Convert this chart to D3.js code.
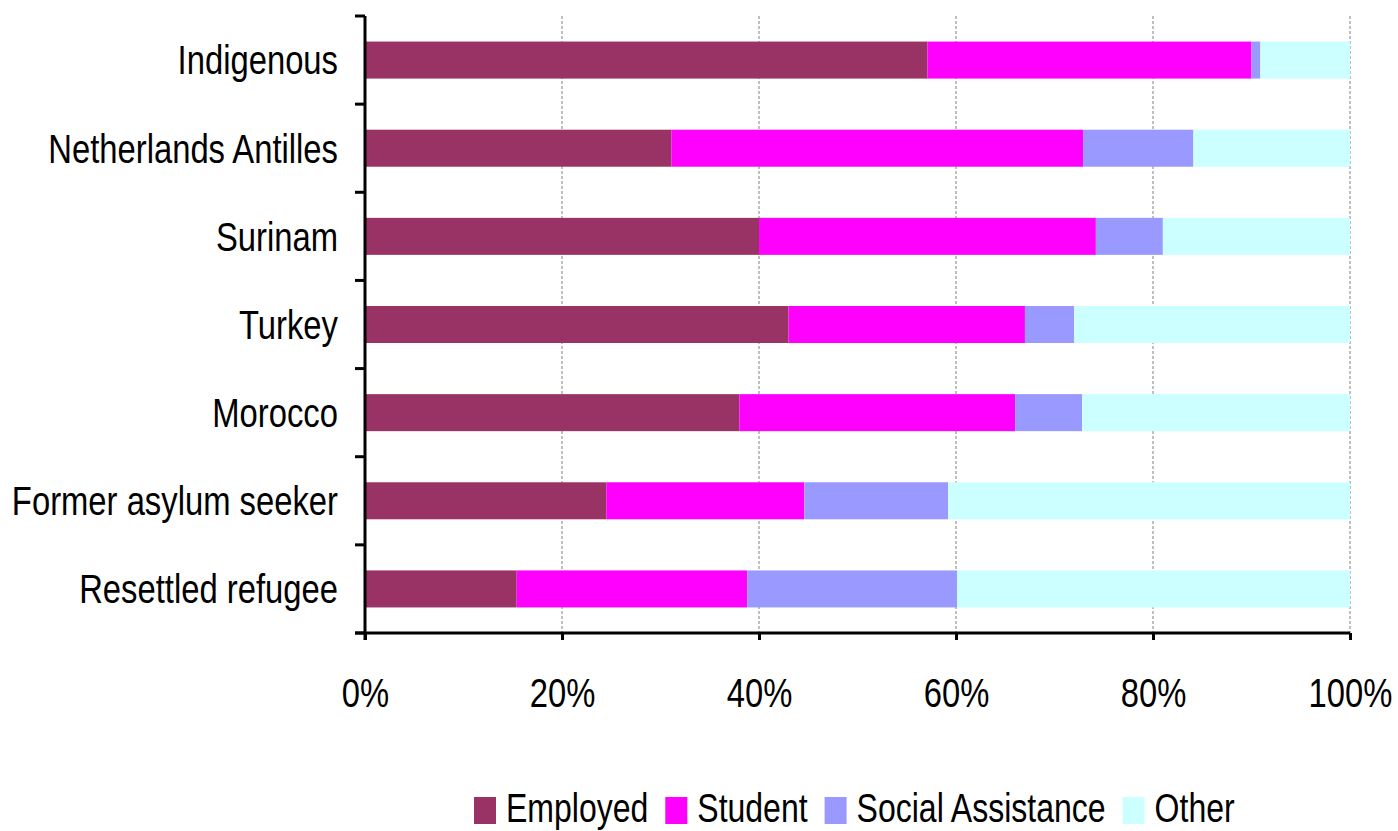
<!DOCTYPE html>
<html>
<head>
<meta charset="utf-8">
<script src="https://cdn.jsdelivr.net/npm/d3@7"></script>
<style>
  html, body { margin: 0; padding: 0; background: #fff; }
  svg { display: block; }
  text { font-family: "Liberation Sans Narrow", "Arial Narrow", "Liberation Sans", Arial, sans-serif; fill: #000; }
</style>
</head>
<body>
<svg id="chart" width="1398" height="831"></svg>
<script>
const categories = ["Indigenous", "Netherlands Antilles", "Surinam", "Turkey", "Morocco", "Former asylum seeker", "Resettled refugee"];
const seriesNames = ["Employed", "Student", "Social Assistance", "Other"];
const employed   = [57.1, 31.1, 40.0, 43.0, 38.0, 24.5, 15.4];
const student    = [32.9, 41.8, 34.2, 24.0, 28.0, 20.1, 23.4];
const socialAss  = [0.9, 11.2, 6.8, 5.0, 6.8, 14.6, 21.3];
const other      = [9.1, 15.9, 19.0, 28.0, 27.2, 40.8, 39.9];
const xTicks = [0, 20, 40, 60, 80, 100];
const colors = ["#993366", "#FF00FF", "#9999FF", "#CCFFFF"];

const rows = categories.map((c, i) => ({
  cat: c, Employed: employed[i], Student: student[i],
  "Social Assistance": socialAss[i], Other: other[i]
}));

const SX = 0.82; // condensed face emulation
const SXL = 0.80;
const svg = d3.select("#chart");
const mLeft = 365, mRight = 1350, mTop = 16, mBottom = 633;

const x = d3.scaleLinear().domain([0, 100]).range([mLeft, mRight]);
const y = d3.scaleBand().domain(categories).range([mTop, mBottom]).paddingInner(0.58).paddingOuter(0.29);
const yOuter = d3.scaleBand().domain(categories).range([mTop, mBottom]);
const color = d3.scaleOrdinal().domain(seriesNames).range(colors);

// gridlines
svg.append("g").selectAll("line").data(xTicks.filter(t => t > 0)).join("line")
  .attr("x1", d => x(d)).attr("x2", d => x(d))
  .attr("y1", mTop).attr("y2", mBottom)
  .attr("stroke", "#808080").attr("stroke-width", 1).attr("stroke-dasharray", "3,2");

// stacked bars
const stack = d3.stack().keys(seriesNames)(rows);
svg.append("g").selectAll("g").data(stack).join("g")
  .attr("fill", d => color(d.key))
  .selectAll("rect").data(d => d).join("rect")
  .attr("x", d => x(d[0]))
  .attr("width", d => x(d[1]) - x(d[0]))
  .attr("y", d => y(d.data.cat))
  .attr("height", y.bandwidth());

// y axis line and ticks at band boundaries
const yBounds = categories.map(c => yOuter(c)).concat([mBottom]);
svg.append("line").attr("x1", mLeft).attr("x2", mLeft).attr("y1", mTop).attr("y2", mBottom + 7)
  .attr("stroke", "#000").attr("stroke-width", 3);
svg.append("g").selectAll("line").data(yBounds).join("line")
  .attr("x1", mLeft - 10).attr("x2", mLeft).attr("y1", d => d).attr("y2", d => d)
  .attr("stroke", "#000").attr("stroke-width", 3);

// x axis
const xAxis = d3.axisBottom(x).tickValues(xTicks).tickFormat(d => d + "%").tickSize(7).tickPadding(36);
const gx = svg.append("g").attr("transform", `translate(0,${mBottom})`).call(xAxis);
gx.select(".domain").attr("stroke", "#000").attr("stroke-width", 3).attr("d", `M${mLeft - 10},0H${mRight}`);
gx.selectAll(".tick line").attr("stroke", "#000").attr("stroke-width", 3);
gx.attr("font-family", null).attr("font-size", null);
gx.selectAll(".tick text").attr("font-size", 40).attr("dy", "0").attr("y", null)
  .attr("transform", `translate(0,74) scale(${SX},1)`);

// category labels
svg.append("g").selectAll("text").data(categories).join("text")
  .attr("transform", d => `translate(338,${yOuter(d) + yOuter.bandwidth() / 2}) scale(${SX},1)`)
  .attr("dy", "0.36em")
  .attr("text-anchor", "end")
  .attr("font-size", 40)
  .text(d => d);

// legend
const lg = svg.append("g");
let lx = 474;
seriesNames.forEach((s, i) => {
  lg.append("rect").attr("x", lx).attr("y", 797).attr("width", 22).attr("height", 27).attr("fill", colors[i]);
  const t = lg.append("text").attr("transform", `translate(${lx + 32},822) scale(${SXL},1)`).attr("font-size", 40).text(s);
  lx += 32 + t.node().getComputedTextLength() * SXL + 17;
});
</script>
</body>
</html>
